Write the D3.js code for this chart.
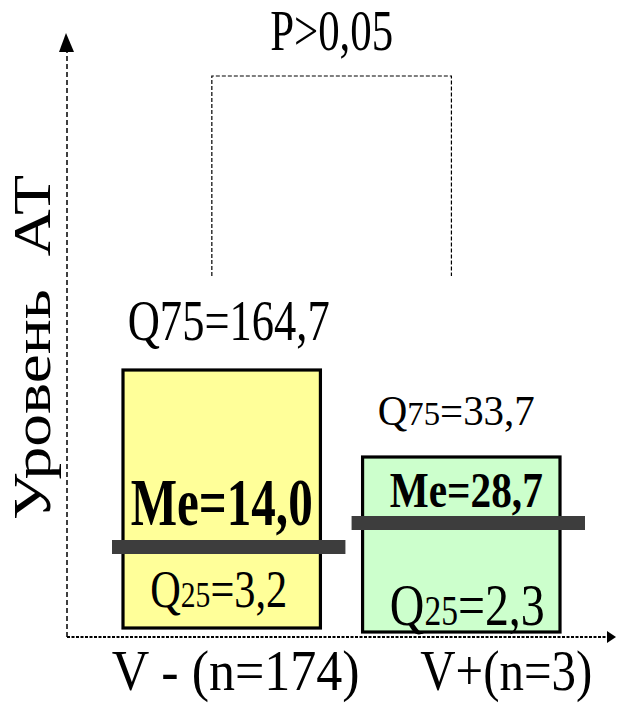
<!DOCTYPE html>
<html>
<head>
<meta charset="utf-8">
<script src="https://cdn.jsdelivr.net/npm/d3@7"></script>
<style>
  html, body { margin: 0; padding: 0; background: #fff; }
  svg { display: block; }
  text { font-family: "Liberation Serif", "Times New Roman", serif; fill: #000; }
</style>
</head>
<body>
<svg id="chart" width="617" height="704"></svg>
<script>
// Groups and their quartile summaries
const groups = ["V-", "V+"];
const groupLabels = ["V - (n=174)", "V+(n=3)"];
const q25 = [3.2, 2.3];
const median = [14.0, 28.7];
const q75 = [164.7, 33.7];
const pLabel = "P>0,05";
const yTitle = "Уровень\u00A0\u00A0АТ";
const boxFills = ["#ffff99", "#ccffcc"];

// Per-group label layout (font sizes, offsets, fitted widths)
const labelLayout = [
  { q75: { size: 56, len: 202, dx: 7,  dy: -30, sub: false },
    me:  { size: 68, len: 182, dx: 0,  dy: -22 },
    q25: { size: 52, len: 137, dx: -3, dy: -21 },
    axis:{ len: 248, dx: 14 } },
  { q75: { size: 42, len: 157, dx: -5, dy: -32, sub: true },
    me:  { size: 50, len: 153, dx: 5,  dy: -16 },
    q25: { size: 59, len: 155, dx: 6,  dy: -7 },
    axis:{ len: 172, dx: 45 } }
];

const fmt = v => d3.format(".1f")(v).replace(".", ",");

const svg = d3.select("#chart");
const plot = { left: 67, right: 617, top: 33, bottom: 637 };

// Category positions
const x = d3.scaleBand().domain(groups).range([123, 560]).paddingInner(0.176);

// Schematic value axis: each statistic gets its own vertical stop
const allValues = Array.from(new Set([...q25, ...median, ...q75])).sort((a, b) => a - b);
const y = d3.scaleLinear()
  .domain(allValues)
  .range([632, 628, 547, 523, 457, 370]);

const data = groups.map((g, i) => ({
  g, i, q25: q25[i], me: median[i], q75: q75[i], label: groupLabels[i], fill: boxFills[i], L: labelLayout[i]
}));

// Place a centred text at (cx, cy) and squeeze it horizontally to a given width
function fitted(parts, size, width, cx, cy, opts = {}) {
  const t = svg.append("text")
    .attr("font-size", size)
    .attr("font-weight", opts.bold ? "bold" : null);
  parts.forEach(p => {
    t.append("tspan").attr("font-size", p.small ? size * p.small : null).text(p.text);
  });
  const w = t.node().getComputedTextLength();
  const sx = width / w;
  const rot = opts.rotate ? ` rotate(${opts.rotate})` : "";
  const anchor = opts.rotate ? 0 : -w / 2;
  t.attr("x", anchor).attr("y", 0)
   .attr("transform", `translate(${cx},${cy})${rot} scale(${sx},1)`);
  return t;
}

// Axes: dashed lines with arrow heads
svg.append("line")
  .attr("x1", plot.left).attr("y1", plot.bottom)
  .attr("x2", plot.left).attr("y2", plot.top + 18)
  .attr("stroke", "#000").attr("stroke-width", 1.5)
  .attr("stroke-dasharray", "5,3");
svg.append("path")
  .attr("d", d3.line()([[plot.left - 1, plot.top], [plot.left - 8, plot.top + 19], [plot.left + 7, plot.top + 19]]) + "Z")
  .attr("fill", "#000");

svg.append("line")
  .attr("x1", plot.left).attr("y1", plot.bottom)
  .attr("x2", plot.right - 8).attr("y2", plot.bottom)
  .attr("stroke", "#000").attr("stroke-width", 2)
  .attr("stroke-dasharray", "3,1.5");
svg.append("path")
  .attr("d", d3.line()([[plot.right - 1, plot.bottom], [plot.right - 10, plot.bottom - 6], [plot.right - 10, plot.bottom + 6]]) + "Z")
  .attr("fill", "#000");

// Y axis title
fitted([{ text: yTitle }], 53, 345, 50, 520, { rotate: -90 });

// Boxes (Q25..Q75)
svg.selectAll("rect.box").data(data).join("rect")
  .attr("class", "box")
  .attr("x", d => x(d.g))
  .attr("y", d => y(d.q75))
  .attr("width", x.bandwidth())
  .attr("height", d => y(d.q25) - y(d.q75))
  .attr("fill", d => d.fill)
  .attr("stroke", "#000")
  .attr("stroke-width", 3.2);

// Median bars
svg.selectAll("rect.med").data(data).join("rect")
  .attr("class", "med")
  .attr("x", d => x(d.g) - 11)
  .attr("y", d => y(d.me) - 7)
  .attr("width", x.bandwidth() + 36)
  .attr("height", 14)
  .attr("fill", "#3d3d3d");

const cx = d => x(d.g) + x.bandwidth() / 2;

data.forEach(d => {
  // Upper quartile above the box
  const s = d.L.q75;
  const q75parts = s.sub
    ? [{ text: "Q" }, { text: "75", small: 0.8 }, { text: "=" + fmt(d.q75) }]
    : [{ text: "Q75=" + fmt(d.q75) }];
  fitted(q75parts, s.size, s.len, cx(d) + s.dx, y(d.q75) + s.dy);

  // Median inside the box
  const m = d.L.me;
  fitted([{ text: "Me=" + fmt(d.me) }], m.size, m.len, cx(d) + m.dx, y(d.me) + m.dy, { bold: true });

  // Lower quartile near the bottom
  const q = d.L.q25;
  fitted([{ text: "Q" }, { text: "25", small: 0.7 }, { text: "=" + fmt(d.q25) }],
    q.size, q.len, cx(d) + q.dx, y(d.q25) + q.dy);

  // Category label under the axis
  fitted([{ text: d.label }], 56, d.L.axis.len, cx(d) + d.L.axis.dx, 690);
});

// Significance bracket between groups
const bx1 = x.bandwidth() * 0.45 + x(groups[0]);
const bx2 = x.bandwidth() * 0.45 + x(groups[1]);
svg.append("path")
  .attr("d", `M${bx1},276 V76 H${bx2} V276`)
  .attr("fill", "none")
  .attr("stroke", "#000")
  .attr("stroke-width", 1.2)
  .attr("stroke-dasharray", "4,2");
fitted([{ text: pLabel }], 56, 123, (bx1 + bx2) / 2, 50);
</script>
</body>
</html>
